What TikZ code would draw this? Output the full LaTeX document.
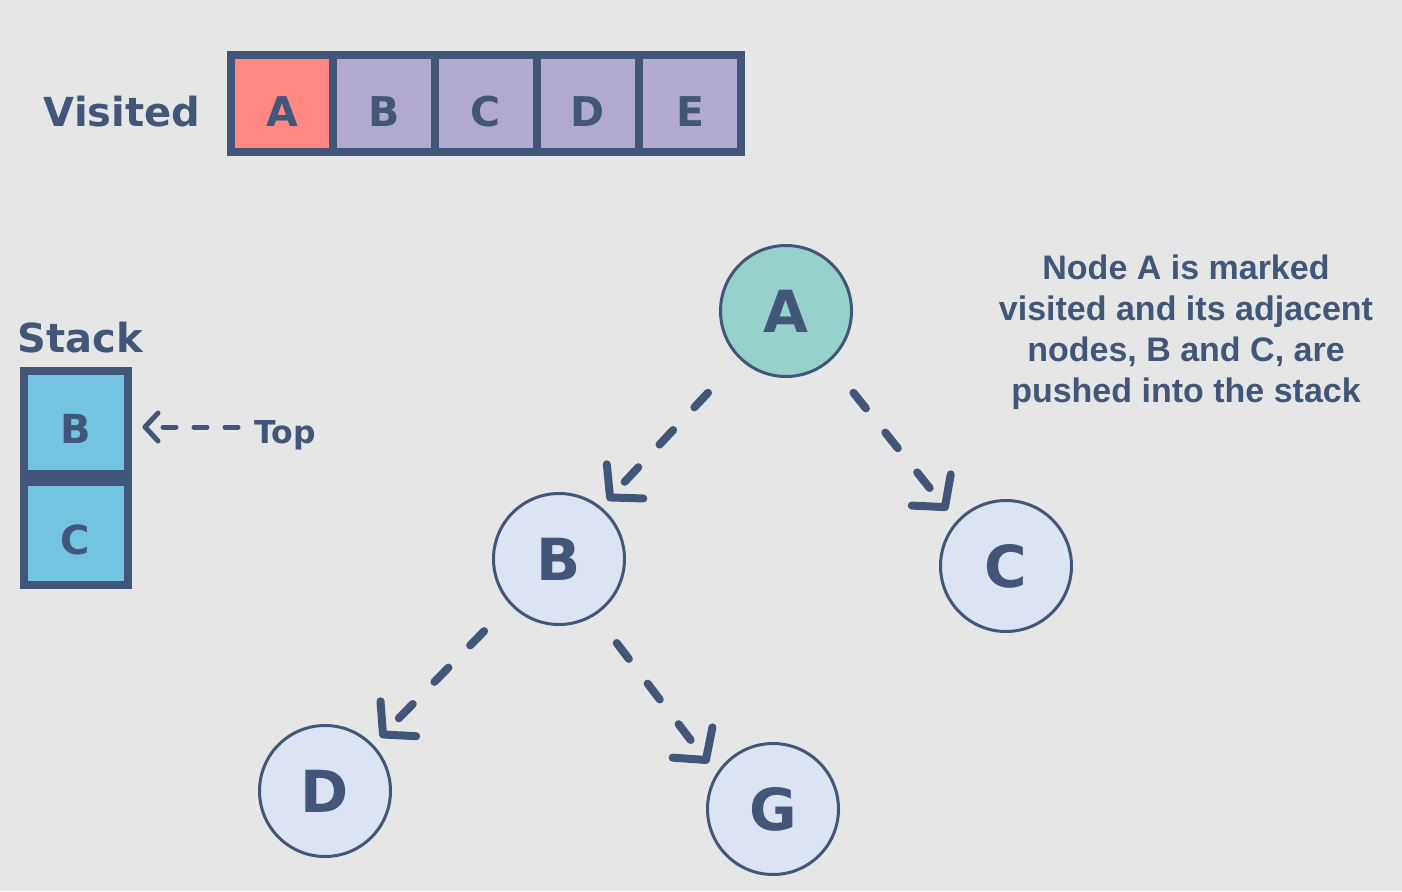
\documentclass[tikz,border=0pt]{standalone}
\usepackage{fontspec}
\newfontfamily\labfont{DejaVu Sans}
\newfontfamily\parafont{Liberation Sans}
\usetikzlibrary{arrows.meta}
\definecolor{bg}{HTML}{E6E6E6}
\definecolor{ink}{HTML}{42567A}
\definecolor{visA}{HTML}{FF8882}
\definecolor{visP}{HTML}{B1A9D3}
\definecolor{stk}{HTML}{72C4E2}
\definecolor{tealc}{HTML}{96D1CC}
\definecolor{lightc}{HTML}{DCE3F3}
\begin{document}
\begin{tikzpicture}[x=1pt,y=-1pt,
  vbox/.style={draw=ink, line width=8pt, minimum width=102pt, minimum height=96pt,
    inner sep=0pt, text=ink, font=\labfont\bfseries\fontsize{41}{48}\selectfont,
    text height=45pt, text depth=0pt},
  sbox/.style={draw=ink, line width=8pt, fill=stk, minimum width=104pt, minimum height=103pt,
    inner sep=0pt, text=ink, font=\labfont\bfseries\fontsize{40}{48}\selectfont,
    text height=41pt, text depth=0pt},
  gnode/.style={circle, draw=ink, line width=3pt, fill=lightc, minimum size=131pt,
    inner sep=0pt, text=ink, font=\labfont\bfseries\fontsize{58}{70}\selectfont},
  title/.style={text=ink, font=\labfont\bfseries\fontsize{40}{48}\selectfont, inner sep=0pt},
  edgearrow/.style={draw=ink, line width=8pt, line cap=round, dash pattern=on 20pt off 31pt,
    -{Straight Barb[length=22pt, width=50pt, round]}},
  toparrow/.style={draw=ink, line width=5pt, line cap=round, dash pattern=on 13pt off 18pt,
    -{Straight Barb[length=13pt, width=28pt, round]}}
]
\useasboundingbox (0,0) rectangle (1402,891);
\fill[bg] (0,0) rectangle (1402,891);

% Visited row
\node[title] (vlab) at (122,112) {Visited};
\node[vbox, fill=visA] (vA) at (282,103.5) {A};
\node[vbox, fill=visP] (vB) at (384,103.5) {B};
\node[vbox, fill=visP] (vC) at (486,103.5) {C};
\node[vbox, fill=visP] (vD) at (588,103.5) {D};
\node[vbox, fill=visP] (vE) at (690,103.5) {E};

% Stack
\node[title] (slab) at (80,338) {Stack};
\node[sbox] (sB) at (75.5,422.5) {B};
\node[sbox] (sC) at (75.5,533.5) {C};
\node[text=ink, font=\labfont\bfseries\fontsize{31.5}{38}\selectfont, inner sep=0pt, anchor=west] (toptext) at (254,435) {Top};
\coordinate (topstart) at (238,427);
\draw[toparrow, shorten >=11pt] (topstart) -- (sB.east |- topstart);

% Graph
\node[gnode, fill=tealc] (A) at (786,311) {A};
\node[gnode] (B) at (559,559) {B};
\node[gnode] (C) at (1006,566) {C};
\node[gnode] (D) at (325,791) {D};
\node[gnode] (G) at (773,809) {G};

\draw[edgearrow, shorten <=46pt, shorten >=9pt] (A.226) -- (B.51);
\draw[edgearrow, shorten <=39pt, shorten >=14pt] (A.310) -- (C.138);
\draw[edgearrow, shorten <=37pt, shorten >=10pt] (B.223) -- (D.44);
\draw[edgearrow, shorten <=35pt, shorten >=13pt] (B.-57) -- (G.148);

% Explanation
\node[text=ink, align=center, inner sep=0pt,
  font=\parafont\bfseries\fontsize{34}{41}\selectfont] (note) at (1186,332)
  {Node A is marked\\visited and its adjacent\\nodes, B and C, are\\pushed into the stack};
\end{tikzpicture}
\end{document}
